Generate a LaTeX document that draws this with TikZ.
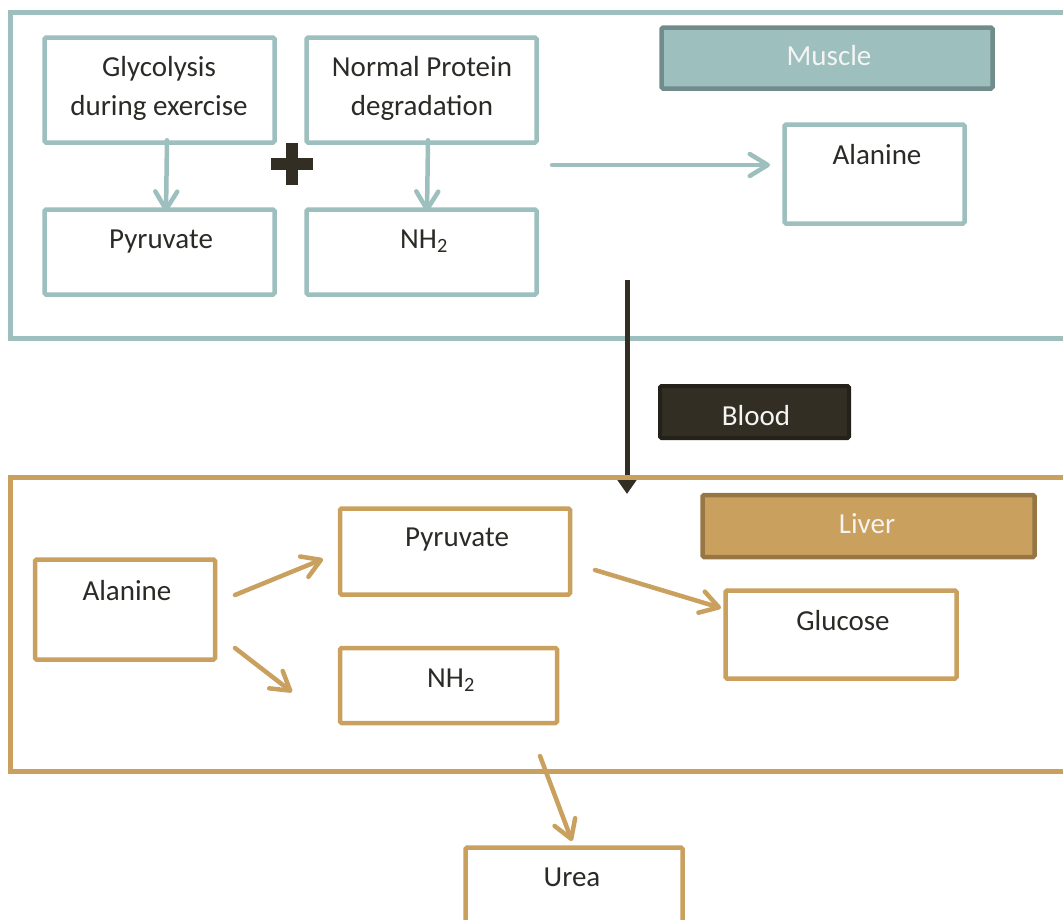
\documentclass[tikz,border=0pt]{standalone}
\usepackage{fontspec}
\setmainfont{Carlito}
\usetikzlibrary{arrows.meta}
\definecolor{musc}{HTML}{9DBFBE}
\definecolor{muscdark}{HTML}{718C8B}
\definecolor{liv}{HTML}{C9A05E}
\definecolor{livdark}{HTML}{977645}
\definecolor{blk}{HTML}{322E24}
\definecolor{blkdark}{HTML}{24211A}
\definecolor{ink}{HTML}{2B2A26}
\definecolor{lbltext}{HTML}{F4F4F2}
\begin{document}
\begin{tikzpicture}[x=1pt,y=-1pt,
  mbox/.style={draw=musc, line width=4.5pt, rounded corners=1.5pt, inner sep=0pt},
  lbox/.style={draw=liv, line width=4.5pt, rounded corners=1.5pt, inner sep=0pt},
  txt/.style={anchor=base, text=ink, font=\fontsize{29}{35}\selectfont, inner sep=0pt},
  wtxt/.style={anchor=base, text=lbltext, font=\fontsize{29}{35}\selectfont, inner sep=0pt},
  marr/.style={draw=musc, line width=4.5pt, line cap=round, -{Straight Barb[round,length=18pt,width=22pt]}},
  larr/.style={draw=liv, line width=4.5pt, line cap=round, -{Straight Barb[round,length=18pt,width=22pt]}},
  barr/.style={draw=blk, line width=5pt, -{Triangle[length=19pt,width=25pt]}}
]
\useasboundingbox (0,0) rectangle (1063,919);
\clip (0,0) rectangle (1063,919);

% Muscle frame
\draw[musc, line width=4.5pt] (1090,12.5) -- (10.5,12.5) -- (10.5,338.5) -- (1090,338.5);

% Muscle boxes
\node[mbox, minimum width=230pt, minimum height=105pt] (gly) at (159.5,90) {};
\node[mbox, minimum width=230pt, minimum height=105pt] (npd) at (421.5,90) {};
\node[mbox, minimum width=230pt, minimum height=85pt] (pyr1) at (159.5,252) {};
\node[mbox, minimum width=230pt, minimum height=85pt] (nh1) at (421.5,252) {};
\node[mbox, minimum width=180pt, minimum height=99pt] (ala1) at (874.5,174) {};
\node[draw=muscdark, fill=musc, line width=4.5pt, rounded corners=1.5pt, minimum width=331pt, minimum height=61pt, inner sep=0pt] (mlab) at (827,58) {};

\node[txt] (t-gly1) at (159,76) {Glycolysis};
\node[txt] (t-gly2) at (159,115) {during exercise};
\node[txt] (t-npd1) at (422,76) {Normal Protein};
\node[txt] (t-npd2) at (422,115) {degradation};
\node[txt] (t-pyr1) at (161,248) {Pyruvate};
\node[txt] (t-nh1) at (424,248) {NH\textsubscript{2}};
\node[txt] (t-ala1) at (877,164) {Alanine};
\node[wtxt] (t-mlab) at (829,65) {Muscle};

% plus sign
\draw[blk, line width=12pt] (271,164) -- (313,164);
\draw[blk, line width=12pt] (292,143) -- (292,185);

% Muscle arrows
\draw[marr] ([xshift=7.5pt,yshift=4.5pt]gly.south) -- ([xshift=6.5pt,yshift=-4.5pt]pyr1.north);
\draw[marr] ([xshift=6.5pt,yshift=4.5pt]npd.south) -- ([xshift=5.5pt,yshift=-4.5pt]nh1.north);
\coordinate (hs) at (552,165);
\coordinate (he) at (770,165);
\draw[marr] (hs) -- (he);

% Blood
\coordinate (bs) at (627,280);
\coordinate (be) at (627,494);
\draw[barr] (bs) -- (be);
\node[draw=blkdark, fill=blk, line width=4pt, rounded corners=1.5pt, minimum width=189pt, minimum height=52pt, inner sep=0pt] (blab) at (754.5,412) {};
\node[wtxt] (t-blab) at (756,425) {Blood};

% Liver frame
\draw[liv, line width=4.5pt] (1090,477.5) -- (10.5,477.5) -- (10.5,771.5) -- (1090,771.5);

% Liver boxes
\node[draw=livdark, fill=liv, line width=4.5pt, rounded corners=1.5pt, minimum width=332pt, minimum height=62pt, inner sep=0pt] (llab) at (868.5,526) {};
\node[lbox, minimum width=180pt, minimum height=100pt] (ala2) at (125,609.5) {};
\node[lbox, minimum width=230pt, minimum height=86pt] (pyr2) at (455,551.5) {};
\node[lbox, minimum width=217pt, minimum height=75pt] (nh2) at (448.5,685.5) {};
\node[lbox, minimum width=231pt, minimum height=88pt] (glu) at (841,634.5) {};
\node[lbox, minimum width=217pt, minimum height=120pt] (urea) at (574,907.5) {};

\node[wtxt] (t-llab) at (867,533) {Liver};
\node[txt] (t-ala2) at (127,600) {Alanine};
\node[txt] (t-pyr2) at (457,546) {Pyruvate};
\node[txt] (t-nh2) at (451,687) {NH\textsubscript{2}};
\node[txt] (t-glu) at (843,630) {Glucose};
\node[txt] (t-urea) at (572,886) {Urea};

% Liver arrows
\coordinate (a1s) at (235,595);
\coordinate (a1e) at (323,559);
\draw[larr] (a1s) -- (a1e);
\coordinate (a2s) at (235,648);
\coordinate (a2e) at (292,692);
\draw[larr] (a2s) -- (a2e);
\coordinate (a3s) at (595,570);
\coordinate (a3e) at (721,608);
\draw[larr] (a3s) -- (a3e);
\coordinate (a4s) at (540,756);
\coordinate (a4e) at (572,841);
\draw[larr] (a4s) -- (a4e);
\end{tikzpicture}
\end{document}
